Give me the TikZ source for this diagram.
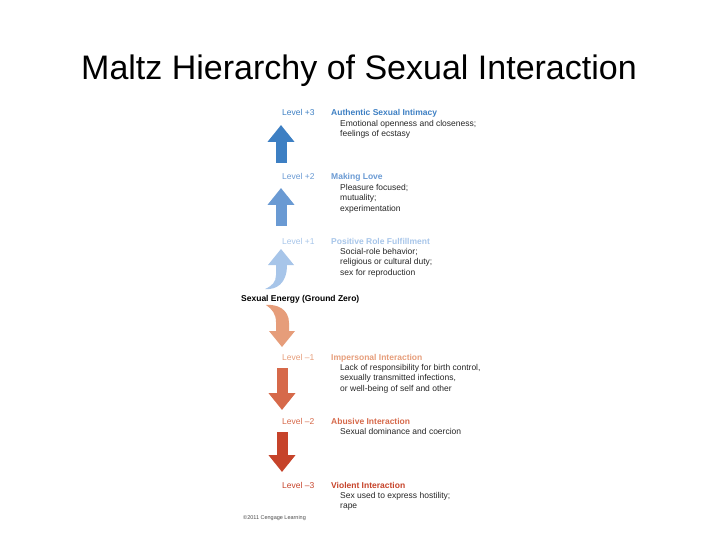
\documentclass[tikz,border=0pt]{standalone}
\usepackage{fontspec}
\setmainfont{Liberation Sans}
\usetikzlibrary{positioning,arrows.meta}
\definecolor{upthree}{HTML}{3D7FC3}
\definecolor{uptwo}{HTML}{6A9AD3}
\definecolor{upone}{HTML}{A7C5E9}
\definecolor{downone}{HTML}{E69D7A}
\definecolor{downtwo}{HTML}{D6694A}
\definecolor{downthree}{HTML}{C6432A}
\tikzset{
  lvl/.style={anchor=base west, inner sep=0pt, font=\fontsize{8.5}{10.5}\selectfont},
  head/.style={anchor=base west, inner sep=0pt, font=\fontsize{8.5}{10.5}\selectfont\bfseries},
  desc/.style={anchor=north west, align=left, inner sep=0pt, text=black!85, font=\fontsize{8.5}{10.5}\selectfont},
  bigarrow/.style={line width=11pt, -{Triangle[width=26pt,length=17pt]}}
}

\begin{document}
\begin{tikzpicture}[x=1pt,y=-1pt]
            \useasboundingbox (0,0) rectangle (720,540);

            %Title
            \node[anchor=base, inner sep=0pt, font=\fontsize{34}{40}\selectfont] at (359,80) (title) {Maltz Hierarchy of Sexual Interaction};

            %Nodes
            \node[lvl, text=upthree] at (282,116) (l3) {Level +3};
            \node[head, text=upthree] at (331,116) (h3) {Authentic Sexual Intimacy};
            \node[desc] at (340,120) (d3) {Emotional openness and closeness;\\feelings of ecstasy};

            \node[lvl, text=uptwo] at (282,180) (l2) {Level +2};
            \node[head, text=uptwo] at (331,180) (h2) {Making Love};
            \node[desc] at (340,184) (d2) {Pleasure focused;\\mutuality;\\experimentation};

            \node[lvl, text=upone] at (282,244) (l1) {Level +1};
            \node[head, text=upone] at (331,244) (h1) {Positive Role Fulfillment};
            \node[desc] at (340,248) (d1) {Social-role behavior;\\religious or cultural duty;\\sex for reproduction};

            \node[head] at (241,301) (zero) {Sexual Energy (Ground Zero)};

            \node[lvl, text=downone] at (282,360) (m1) {Level --1};
            \node[head, text=downone] at (331,360) (hm1) {Impersonal Interaction};
            \node[desc] at (340,364) (dm1) {Lack of responsibility for birth control,\\sexually transmitted infections,\\or well-being of self and other};

            \node[lvl, text=downtwo] at (282,424) (m2) {Level --2};
            \node[head, text=downtwo] at (331,424) (hm2) {Abusive Interaction};
            \node[desc] at (340,428) (dm2) {Sexual dominance and coercion};

            \node[lvl, text=downthree] at (282,488) (m3) {Level --3};
            \node[head, text=downthree] at (331,488) (hm3) {Violent Interaction};
            \node[desc] at (340,492) (dm3) {Sex used to express hostility;\\rape};

            \node[anchor=base west, inner sep=0pt, text=black!70, font=\fontsize{5.5}{6}\selectfont] at (243,519) (credit) {©2011 Cengage Learning};

            %Arrows
            \coordinate (a3s) at (281,163);
            \coordinate (a3e) at (281,125);
            \coordinate (a2s) at (281,226);
            \coordinate (a2e) at (281,188);
            \coordinate (b2s) at (282,368);
            \coordinate (b2e) at (282,410);
            \coordinate (b3s) at (282,432);
            \coordinate (b3e) at (282,472);

            \draw[bigarrow, upthree] (a3s) -- (a3e);
            \draw[bigarrow, uptwo] (a2s) -- (a2e);
            \draw[bigarrow, downtwo] (b2s) -- (b2e);
            \draw[bigarrow, downthree] (b3s) -- (b3e);

            %Curved arrows
            \fill[upone] (265,289) .. controls (276,290) and (287,284) .. (287,265)
                -- (294,265) -- (281,249) -- (268,265) -- (276,265) -- (276,275)
                .. controls (276,282) and (272,286) .. (265,289) -- cycle;
            \fill[downone] (266,305) .. controls (277,304) and (289,309) .. (289,323)
                -- (289,331) -- (295,331) -- (282,347) -- (269,331) -- (276,331) -- (276,322)
                .. controls (276,314) and (272,309) .. (266,305) -- cycle;
        \end{tikzpicture}
\end{document}
